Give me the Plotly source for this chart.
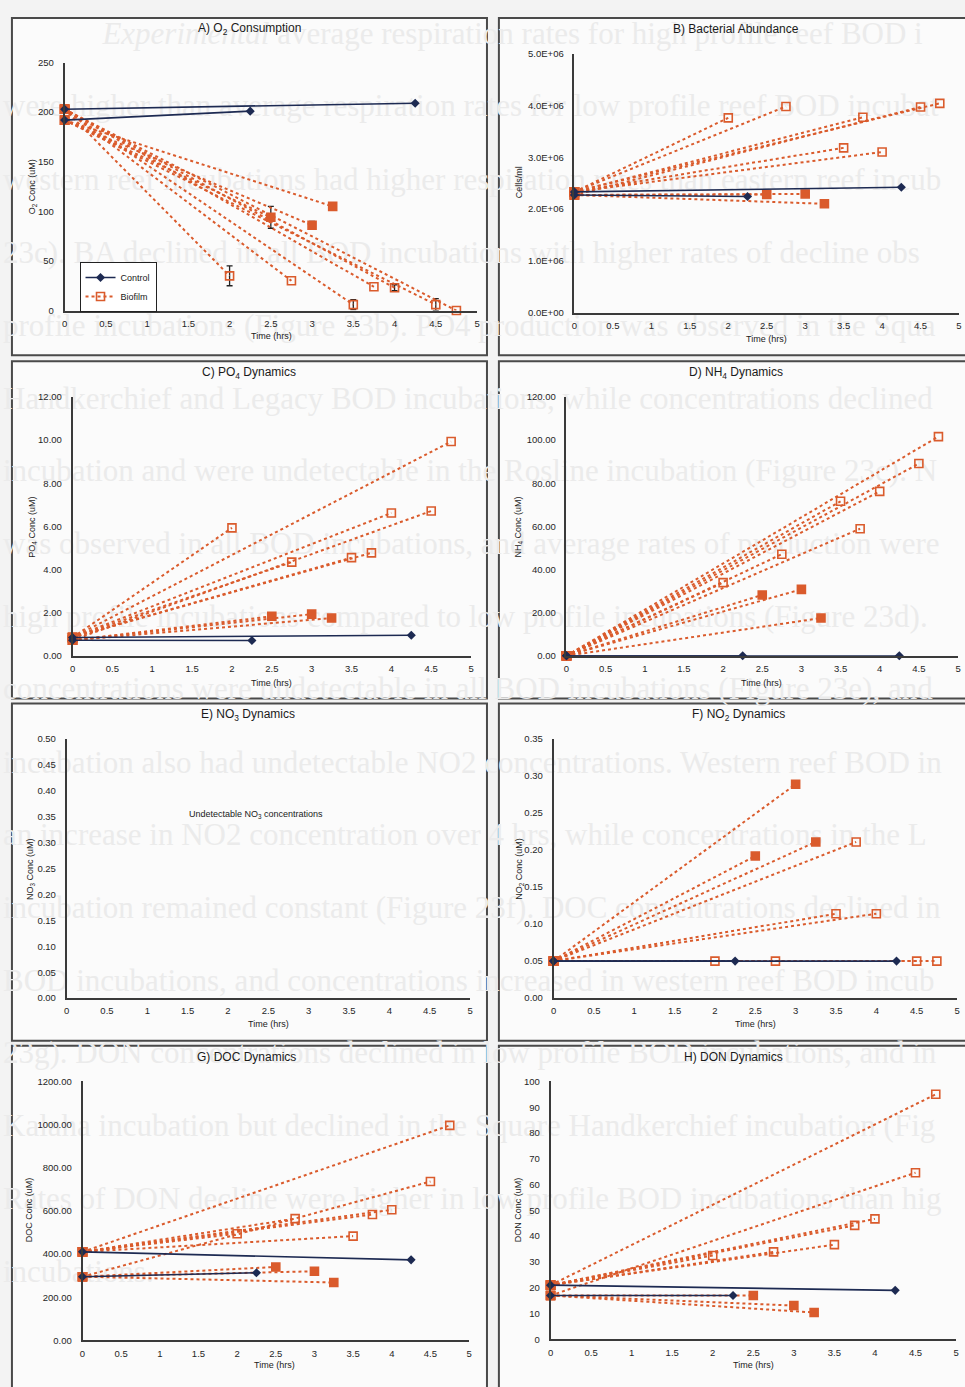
import plotly.graph_objects as go

W, H = 965, 1387

# ---- shared sampling times (hrs) ----
X_TICKS = [0, 0.5, 1, 1.5, 2, 2.5, 3, 3.5, 4, 4.5, 5]
X_TICK_TEXT = ["0", "0.5", "1", "1.5", "2", "2.5", "3", "3.5", "4", "4.5", "5"]

CTRL_T = [4.25, 2.25]
BIO_T = [2.0, 2.5, 2.75, 3.0, 3.25, 3.5, 3.75, 4.0, 4.5, 4.75]
BIO_FILLED = [False, True, False, True, True, False, False, False, False, False]
BIO_GROUP = [0, 1, 0, 1, 1, 0, 0, 0, 1, 0]   # which starting value each incubation shares

# ---- A) O2 ----
O2_START = [203, 192]
O2_CTRL_END = [209, 201]
O2_BIO_END = [35, 94, 30, 86, 105, 6, 24, 23, 6, 0]
O2_BIO_ERR = [10, 11, None, 4, None, 5, None, 3, 6, None]

# ---- B) bacterial abundance ----
BA_START = [2.33e6, 2.27e6]
BA_CTRL_END = [2.42e6, 2.24e6]
BA_BIO_END = [3.76e6, 2.28e6, 3.98e6, 2.29e6, 2.10e6, 3.18e6, 3.77e6, 3.10e6, 3.97e6, 4.04e6]

# ---- C) PO4 ----
PO4_START = [0.85, 0.72]
PO4_CTRL_END = [0.95, 0.71]
PO4_BIO_END = [5.93, 1.83, 4.34, 1.93, 1.75, 4.55, 4.77, 6.62, 6.71, 9.93]

# ---- D) NH4 ----
NH4_START = [0.0, 0.0]
NH4_CTRL_END = [0.0, 0.0]
NH4_BIO_END = [33.9, 28.2, 47.1, 30.8, 17.5, 71.6, 58.9, 76.2, 89.1, 101.6]

# ---- F) NO2 ----
NO2_START = [0.05, 0.05]
NO2_CTRL_END = [0.05, 0.05]
NO2_BIO_END = [0.05, 0.192, 0.05, 0.289, 0.211, 0.114, 0.211, 0.114, 0.05, 0.05]

# ---- G) DOC ----
DOC_START = [410, 295]
DOC_CTRL_END = [373, 313]
DOC_BIO_END = [494, 340, 564, 320, 268, 483, 583, 605, 736, 996]

# ---- H) DON ----
DON_START = [21, 17]
DON_CTRL_END = [19, 17]
DON_BIO_END = [32.5, 17.0, 33.9, 13.1, 10.4, 36.7, 44.2, 46.7, 64.6, 95.0]

# y tick definitions
O2_TICKS = [0, 50, 100, 150, 200, 250]
BA_TICKS = [0, 1e6, 2e6, 3e6, 4e6, 5e6]
BA_TICK_TEXT = ["0.0E+00", "1.0E+06", "2.0E+06", "3.0E+06", "4.0E+06", "5.0E+06"]
PO4_TICKS = [0, 2, 4, 6, 8, 10, 12]
NH4_TICKS = [0, 20, 40, 60, 80, 100, 120]
NO3_TICKS = [0, 0.05, 0.10, 0.15, 0.20, 0.25, 0.30, 0.35, 0.40, 0.45, 0.50]
NO2_TICKS = [0, 0.05, 0.10, 0.15, 0.20, 0.25, 0.30, 0.35]
DOC_TICKS = [0, 200, 400, 600, 800, 1000, 1200]
DON_TICKS = [0, 10, 20, 30, 40, 50, 60, 70, 80, 90, 100]

NAVY = "#1d2a52"
ORANGE = "#da5b2c"
AXIS = "#3a3a3a"
TXT = "#262626"
FONT = "Liberation Sans"
GHOST = "#ebebeb"

# panel specs: title, y title, data, ticks, plot-area pixel box (x at t=0, x at t=5, y at 0, y at top)
panels = [
    dict(title="A) O<sub>2</sub> Consumption", ytitle="O<sub>2</sub> Conc (uM)",
         start=O2_START, ctrl=O2_CTRL_END, bio=O2_BIO_END, err=O2_BIO_ERR,
         yt=O2_TICKS, ytt=[str(v) for v in O2_TICKS], top=250,
         box=(62, 477, 307, 57), frame=(9, 487, 12, 352),
         tpos=(248, 23), ypos=(30, 182), xpos=(270, 333)),
    dict(title="B) Bacterial Abundance", ytitle="Cells/ml",
         start=BA_START, ctrl=BA_CTRL_END, bio=BA_BIO_END, err=None,
         yt=BA_TICKS, ytt=BA_TICK_TEXT, top=5e6,
         box=(575, 962, 309, 48), frame=(499, 970, 12, 352),
         tpos=(738, 23), ypos=(519, 178), xpos=(768, 336)),
    dict(title="C) PO<sub>4</sub> Dynamics", ytitle="PO<sub>4</sub> Conc (uM)",
         start=PO4_START, ctrl=PO4_CTRL_END, bio=PO4_BIO_END, err=None,
         yt=PO4_TICKS, ytt=["%.2f" % v for v in PO4_TICKS], top=12,
         box=(70, 471, 655, 394), frame=(9, 487, 358, 698),
         tpos=(248, 370), ypos=(30, 525), xpos=(270, 682)),
    dict(title="D) NH<sub>4</sub> Dynamics", ytitle="NH<sub>4</sub> Conc (uM)",
         start=NH4_START, ctrl=NH4_CTRL_END, bio=NH4_BIO_END, err=None,
         yt=NH4_TICKS, ytt=["%.2f" % v for v in NH4_TICKS], top=120,
         box=(567, 961, 655, 394), frame=(499, 970, 358, 698),
         tpos=(738, 370), ypos=(519, 525), xpos=(763, 682)),
    dict(title="E) NO<sub>3</sub> Dynamics", ytitle="NO<sub>3</sub> Conc (uM)",
         start=None, ctrl=None, bio=None, err=None,
         yt=NO3_TICKS, ytt=["%.2f" % v for v in NO3_TICKS], top=0.5,
         box=(64, 470, 1000, 739), frame=(9, 487, 703, 1043),
         tpos=(247, 715), ypos=(27, 870), xpos=(267, 1026)),
    dict(title="F) NO<sub>2</sub> Dynamics", ytitle="NO<sub>2</sub> Conc (uM)",
         start=NO2_START, ctrl=NO2_CTRL_END, bio=NO2_BIO_END, err=None,
         yt=NO2_TICKS, ytt=["%.2f" % v for v in NO2_TICKS], top=0.35,
         box=(554, 960, 1000, 739), frame=(499, 970, 703, 1043),
         tpos=(740, 715), ypos=(519, 870), xpos=(757, 1026)),
    dict(title="G) DOC Dynamics", ytitle="DOC Conc (uM)",
         start=DOC_START, ctrl=DOC_CTRL_END, bio=DOC_BIO_END, err=None,
         yt=DOC_TICKS, ytt=["%.2f" % v for v in DOC_TICKS], top=1200,
         box=(80, 469, 1345, 1084), frame=(9, 487, 1048, 1395),
         tpos=(245, 1059), ypos=(27, 1213), xpos=(273, 1370)),
    dict(title="H) DON Dynamics", ytitle="DON Conc (uM)",
         start=DON_START, ctrl=DON_CTRL_END, bio=DON_BIO_END, err=None,
         yt=DON_TICKS, ytt=[str(v) for v in DON_TICKS], top=100,
         box=(551, 959, 1344, 1084), frame=(499, 970, 1048, 1395),
         tpos=(735, 1059), ypos=(519, 1213), xpos=(755, 1370)),
]

# faint lines of body text bleeding through the printed page
BODY_X = [100, 0, 0, 0, 0, 0, 0, 0, 0, 0, 0, 0, 0, 0, 0, 0, 0, 0]
BODY_Y = [30, 103, 178, 251, 325, 398, 471, 545, 618, 691, 765, 838, 911, 985, 1058, 1131, 1205, 1278]
BODY_TEXT = [
    "<i>Experimental</i> average respiration rates for high profile reef BOD i",
    "were higher than average respiration rates for low profile reef BOD incubat",
    "western reef incubations had higher respiration rates than eastern reef incub",
    "23c). BA declined in all BOD incubations with higher rates of decline obs",
    "profile incubations (Figure 23b). PO4 production was observed in the Squa",
    "Handkerchief and Legacy BOD incubations, while concentrations declined",
    "incubation and were undetectable in the Rosline incubation (Figure 23c). N",
    "was observed in all BOD incubations, and average rates of production were",
    "high profile incubations compared to low profile incubations (Figure 23d).",
    "concentrations were undetectable in all BOD incubations (Figure 23e), and",
    "incubation also had undetectable NO2 concentrations. Western reef BOD in",
    "an increase in NO2 concentration over 4 hrs, while concentrations in the L",
    "incubation remained constant (Figure 23f). DOC concentrations declined in",
    "BOD incubations, and concentrations increased in western reef BOD incub",
    "23g). DON concentrations declined in low profile BOD incubations, and in",
    "Kalaha incubation but declined in the Square Handkerchief incubation (Fig",
    "Rates of DON decline were higher in low profile BOD incubations than hig",
    "incubations.",
]


def px_x(v):
    return v / W


def px_y(v):
    return 1 - v / H


fig = go.Figure()
shapes = []
annotations = []
layout = {}

# full-page pixel axes for the bleed-through text, drawn beneath every panel
layout["xaxis"] = dict(domain=[0, 1], range=[0, W], visible=False, fixedrange=True)
layout["yaxis"] = dict(domain=[0, 1], range=[H, 0], visible=False, fixedrange=True,
                       anchor="x")
fig.add_trace(go.Scatter(x=BODY_X, y=BODY_Y, text=BODY_TEXT, mode="text",
                         textposition="middle right", xaxis="x", yaxis="y",
                         textfont=dict(family="Liberation Serif", size=31, color=GHOST),
                         showlegend=False, hoverinfo="skip", cliponaxis=False))

# panel frames
for p in panels:
    fx0, fx1, fy0, fy1 = p["frame"]
    shapes.append(dict(type="rect", xref="paper", yref="paper", layer="below",
                       x0=px_x(fx0), x1=px_x(fx1), y0=px_y(fy1), y1=px_y(fy0),
                       fillcolor="#fbfbfb", line=dict(color="#4a4a4a", width=2)))


def note(text, x, y, size, angle=0):
    annotations.append(dict(text=text, x=px_x(x), y=px_y(y), xref="paper", yref="paper",
                            xanchor="center", yanchor="middle", showarrow=False,
                            textangle=angle,
                            font=dict(family=FONT, size=size, color="#1a1a1a")))


for i, p in enumerate(panels):
    sfx = str(i + 2)
    xa, ya = "x" + sfx, "y" + sfx
    x0p, x5p, y0p, ytp = p["box"]
    layout["xaxis" + sfx] = dict(
        domain=[px_x(x0p), px_x(x5p)], range=[0, 5], anchor=ya,
        tickvals=X_TICKS, ticktext=X_TICK_TEXT, showline=True, linecolor=AXIS,
        linewidth=1.6, showgrid=False, zeroline=False, ticks="", ticklabelstandoff=3,
        tickfont=dict(family=FONT, size=9.5, color=TXT), fixedrange=True)
    layout["yaxis" + sfx] = dict(
        domain=[px_y(y0p), px_y(ytp)], range=[0, p["top"]], anchor=xa,
        tickvals=p["yt"], ticktext=p["ytt"], showline=True, linecolor=AXIS,
        linewidth=1.6, showgrid=False, zeroline=False, ticks="", ticklabelstandoff=7,
        tickfont=dict(family=FONT, size=9.5, color=TXT), fixedrange=True)

    note(p["title"], *p["tpos"], 12)
    note(p["ytitle"], *p["ypos"], 9, angle=-90)
    note("Time (hrs)", *p["xpos"], 9)

    if p["bio"] is None:
        # empty panel still needs its axes drawn
        fig.add_trace(go.Scatter(x=[None], y=[None], xaxis=xa, yaxis=ya,
                                 mode="markers", showlegend=False, hoverinfo="skip"))
        continue

    # biofilm incubations: dotted line from t = 0 to the final sample
    for k, (t, v) in enumerate(zip(BIO_T, p["bio"])):
        s = p["start"][BIO_GROUP[k]]
        end_sym = "square" if BIO_FILLED[k] else "square-open"
        tr = dict(x=[0, t], y=[s, v], xaxis=xa, yaxis=ya, mode="lines+markers",
                  line=dict(color=ORANGE, width=2, dash="dot"),
                  marker=dict(symbol=["square", end_sym], size=8, color=ORANGE,
                              line=dict(color=ORANGE, width=1.6)),
                  showlegend=False, cliponaxis=False, hoverinfo="skip")
        if p["err"] is not None and p["err"][k] is not None:
            tr["error_y"] = dict(type="data", array=[None, p["err"][k]], color="#222222",
                                 thickness=1.3, width=3)
        fig.add_trace(go.Scatter(**tr))

    # control incubations: solid line with diamonds
    for k, (t, v) in enumerate(zip(CTRL_T, p["ctrl"])):
        fig.add_trace(go.Scatter(
            x=[0, t], y=[p["start"][k], v], xaxis=xa, yaxis=ya, mode="lines+markers",
            line=dict(color=NAVY, width=1.6),
            marker=dict(symbol="diamond", size=7, color=NAVY),
            showlegend=False, cliponaxis=False, hoverinfo="skip"))

# legend entries (panel A)
fig.add_trace(go.Scatter(x=[None], y=[None], name="Control", mode="lines+markers",
                         xaxis="x2", yaxis="y2",
                         line=dict(color=NAVY, width=1.6),
                         marker=dict(symbol="diamond", size=7, color=NAVY)))
fig.add_trace(go.Scatter(x=[None], y=[None], name="Biofilm", mode="lines+markers",
                         xaxis="x2", yaxis="y2",
                         line=dict(color=ORANGE, width=2, dash="dot"),
                         marker=dict(symbol="square-open", size=8, color=ORANGE,
                                     line=dict(color=ORANGE, width=1.6))))

note("Undetectable NO<sub>3</sub> concentrations", 255, 815, 9)

fig.update_layout(
    width=W, height=H, margin=dict(l=0, r=0, t=0, b=0),
    paper_bgcolor="#f3f3f3", plot_bgcolor="rgba(0,0,0,0)",
    font=dict(family=FONT, color=TXT),
    shapes=shapes, annotations=annotations,
    legend=dict(x=px_x(77), y=px_y(258), xanchor="left", yanchor="top",
                bgcolor="#ffffff", bordercolor="#222222", borderwidth=1,
                font=dict(family=FONT, size=9, color="#1a1a1a"),
                itemwidth=30, tracegroupgap=0),
    **layout,
)

fig.write_html("out.html")
